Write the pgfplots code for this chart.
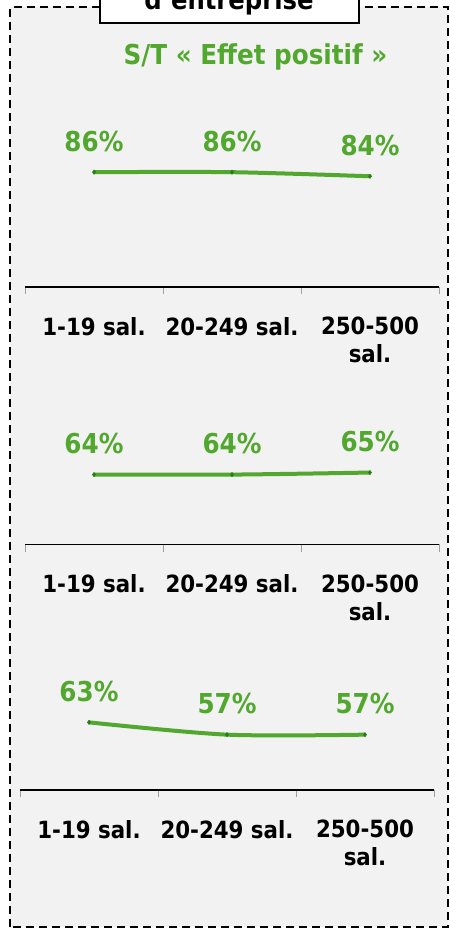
\documentclass[border=0pt]{standalone}
\usepackage{pgfplots}
\pgfplotsset{compat=1.18}
\usepackage{fontspec}
\setmainfont{DejaVu Sans Condensed}
\definecolor{bggray}{HTML}{F2F2F2}
\definecolor{vert}{RGB}{82,168,46}
\definecolor{vertfonce}{RGB}{40,125,22}
\pgfplotsset{chart/.style={
  anchor=south west, width=414bp, height=143.5bp, scale only axis,
  xmin=-0.5, xmax=2.5, ymin=30, ymax=100, clip=false,
  axis x line*=bottom, axis y line=none,
  x axis line style={black, line width=1.3bp},
  xtick={-0.5,0.5,1.5,2.5}, xticklabels={,,,},
  tick align=outside, major tick length=7.5bp,
  xtick style={color=gray!75, line width=1bp},
  extra x ticks={0,1,2},
  extra x tick labels={1-19 sal.,20-249 sal.,{250-500\\sal.}},
  extra x tick style={major tick length=0pt},
  xticklabel style={font=\fontsize{23.7bp}{28bp}\selectfont\bfseries, align=center, anchor=north, inner sep=0pt, yshift=-30bp, text=black},
  ytick=\empty,
  nodes near coords={\pgfplotspointmeta\%},
  point meta=explicit symbolic,
  every node near coord/.append style={font=\fontsize{27.4bp}{30bp}\selectfont\bfseries, text=vert, anchor=base, yshift=21bp, inner sep=0pt},
}, 
ligne/.style={color=vert, line width=4bp, smooth, mark=diamond*, mark size=2.2bp, mark options={fill=vertfonce, draw=vertfonce, line width=0.4bp}}}
\begin{document}
\begin{tikzpicture}[x=1bp, y=1bp]
\useasboundingbox (0,0) rectangle (450,930);
\clip (0,0) rectangle (450,930);
\fill[white] (0,0) rectangle (450,930);
\fill[bggray] (10,3) rectangle (448,922.5);
\draw[black, line width=2bp, dash pattern=on 8bp off 5bp] (10,3) rectangle (448,922.5);
\filldraw[fill=white, draw=black, line width=2bp] (100,907) rectangle (359,940);
\node[anchor=base, font=\fontsize{27bp}{30bp}\selectfont\bfseries, text=black, inner sep=0pt] at (229,920.5) {d’entreprise};
\node[anchor=base, font=\fontsize{27.4bp}{30bp}\selectfont\bfseries, text=vert, inner sep=0pt] at (255.5,865) {S/T « Effet positif »};

\begin{axis}[chart, at={(25bp,643bp)}]
\addplot[ligne] coordinates {(0,86)[86] (1,86)[86] (2,84)[84]};
\end{axis}
\begin{axis}[chart, at={(25bp,385.7bp)}]
\addplot[ligne] coordinates {(0,64)[64] (1,64)[64] (2,65)[65]};
\end{axis}
\begin{axis}[chart, at={(20bp,140bp)}]
\addplot[ligne] coordinates {(0,63)[63] (1,57)[57] (2,57)[57]};
\end{axis}
\end{tikzpicture}
\end{document}
